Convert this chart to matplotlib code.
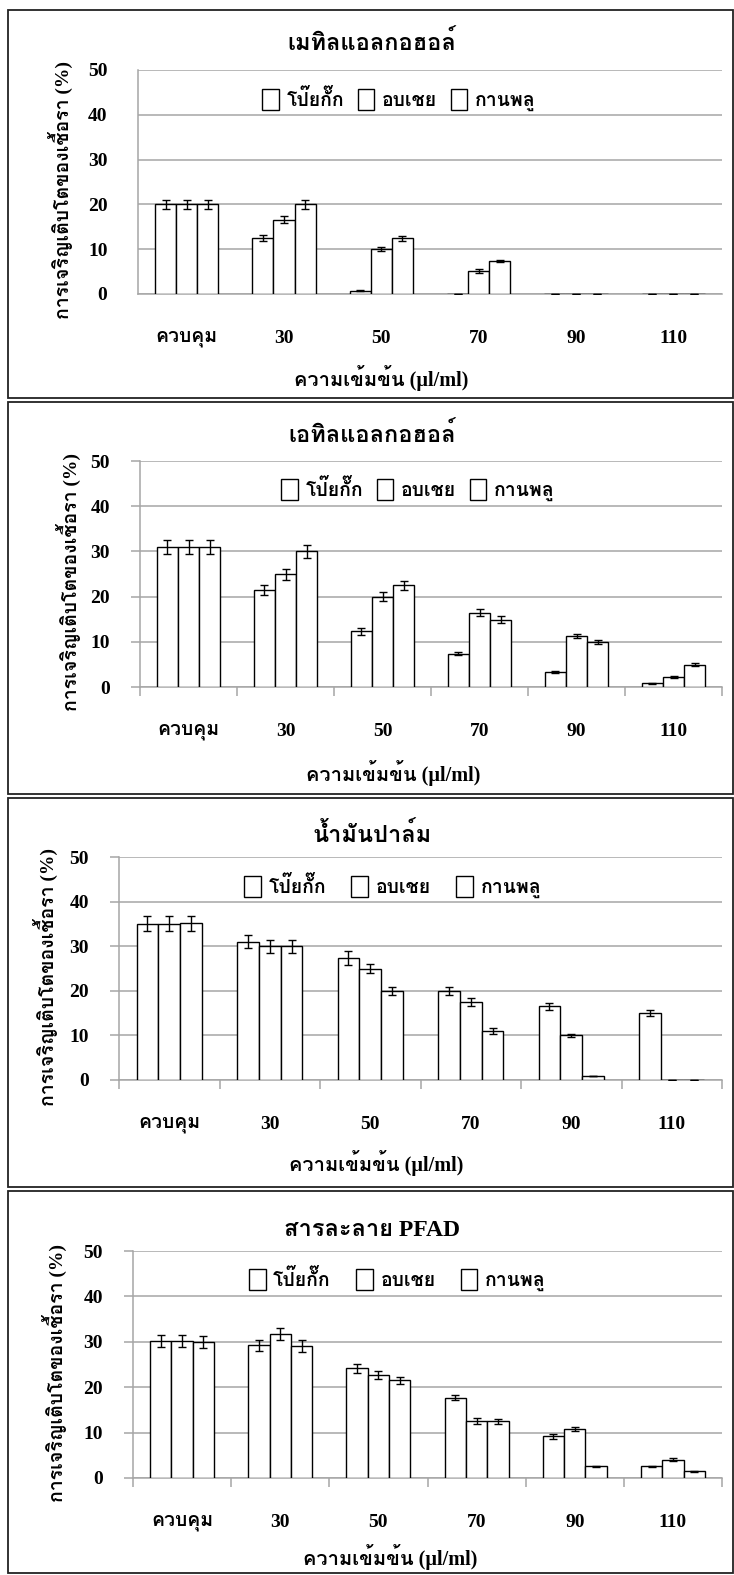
import matplotlib
matplotlib.use("Agg")
import matplotlib.pyplot as plt
from matplotlib import font_manager
from matplotlib.ft2font import FT2Font
from matplotlib.patches import Rectangle, Patch
import numpy as np

# ---- data ----
categories = ["ควบคุม", "30", "50", "70", "90", "110"]
series_names = ["โป๊ยกั๊ก", "อบเชย", "กานพลู"]
titles = ["เมทิลแอลกอฮอล์", "เอทิลแอลกอฮอล์", "น้ำมันปาล์ม", "สารละลาย PFAD"]
ylabel = "การเจริญเติบโตของเชื้อรา (%)"
xlabel = "ความเข้มข้น (µl/ml)"
yticks = [0, 10, 20, 30, 40, 50]

methanol_anise = [20, 12.5, 0.7, 0, 0, 0]
methanol_cinnamon = [20, 16.6, 10.1, 5.1, 0, 0]
methanol_clove = [20, 20, 12.4, 7.3, 0, 0]
methanol_anise_err = [1.0, 0.6, 0.1, 0, 0, 0]
methanol_cinnamon_err = [1.0, 0.7, 0.5, 0.4, 0, 0]
methanol_clove_err = [1.0, 1.0, 0.6, 0.25, 0, 0]

ethanol_anise = [31, 21.5, 12.3, 7.4, 3.3, 0.8]
ethanol_cinnamon = [31, 24.9, 20, 16.4, 11.3, 2.2]
ethanol_clove = [31, 30, 22.5, 14.9, 10, 4.9]
ethanol_anise_err = [1.5, 1.1, 0.7, 0.4, 0.3, 0.05]
ethanol_cinnamon_err = [1.5, 1.2, 1.0, 0.8, 0.5, 0.15]
ethanol_clove_err = [1.5, 1.5, 1.0, 0.8, 0.5, 0.3]

palm_anise = [35, 31, 27.4, 19.9, 16.5, 15]
palm_cinnamon = [35, 30, 25, 17.5, 10, 0]
palm_clove = [35.1, 30, 20, 11, 1, 0]
palm_anise_err = [1.7, 1.5, 1.6, 0.9, 0.7, 0.7]
palm_cinnamon_err = [1.7, 1.5, 1.1, 0.8, 0.4, 0]
palm_clove_err = [1.7, 1.5, 0.9, 0.6, 0, 0]

pfad_anise = [30.2, 29.2, 24.2, 17.7, 9.2, 2.6]
pfad_cinnamon = [30.2, 31.7, 22.7, 12.6, 10.8, 4.0]
pfad_clove = [30, 29, 21.5, 12.5, 2.6, 1.5]
pfad_anise_err = [1.3, 1.3, 1.0, 0.6, 0.5, 0.1]
pfad_cinnamon_err = [1.3, 1.3, 0.8, 0.6, 0.4, 0.3]
pfad_clove_err = [1.3, 1.3, 0.8, 0.5, 0.1, 0.1]

panels = [
    ([methanol_anise, methanol_cinnamon, methanol_clove],
     [methanol_anise_err, methanol_cinnamon_err, methanol_clove_err]),
    ([ethanol_anise, ethanol_cinnamon, ethanol_clove],
     [ethanol_anise_err, ethanol_cinnamon_err, ethanol_clove_err]),
    ([palm_anise, palm_cinnamon, palm_clove],
     [palm_anise_err, palm_cinnamon_err, palm_clove_err]),
    ([pfad_anise, pfad_cinnamon, pfad_clove],
     [pfad_anise_err, pfad_cinnamon_err, pfad_clove_err]),
]

# ---- fonts: find something that can draw Thai ----
thai_fonts = []
for f in font_manager.fontManager.ttflist:
    if f.name in thai_fonts:
        continue
    try:
        if 0x0E01 in FT2Font(f.fname).get_charmap():
            thai_fonts.append(f.name)
    except Exception:
        pass
fam = ["Liberation Serif"] + thai_fonts[:2] + ["DejaVu Sans"]
plt.rcParams["font.family"] = fam
plt.rcParams["font.weight"] = "bold"

W, H = 734, 1575
fig = plt.figure(figsize=(W / 100, H / 100), dpi=100)

# layout in pixels: (left, right, y of 50, y of 0), panel frame (top, bottom)
axes_px = [(138, 722, 70, 294), (140, 722, 461, 687),
           (119, 722, 857, 1080), (133, 722, 1251, 1478)]
frames_px = [(10, 398), (402, 794), (798, 1187), (1191, 1573)]
title_y = [43, 435, 835, 1230]
ylab_x = [60, 68, 45, 54]
xlab_pos = [(381, 378), (393, 773), (376, 1163), (390, 1557)]
leg_pos = [(0.447, 0.866), (0.478, 0.872), (0.454, 0.865), (0.449, 0.872)]
leg_gap = [0.7, 0.7, 1.3, 1.3]

grid_c = "#a6a6a6"
bw = 0.217
x = np.arange(len(categories)) + 0.5
fs = 14

for i, (vals, errs) in enumerate(panels):
    top, bot = frames_px[i]
    fig.add_artist(Rectangle((8 / W, 1 - bot / H), (733 - 8) / W, (bot - top) / H,
                             transform=fig.transFigure, fill=False,
                             edgecolor="#222222", linewidth=1.3))
    l, r, y50, y0 = axes_px[i]
    ax = fig.add_axes([l / W, 1 - y0 / H, (r - l) / W, (y0 - y50) / H])
    for k in range(3):
        ax.bar(x + (k - 1) * bw, vals[k], width=bw, color="white",
               edgecolor="black", linewidth=1.0, zorder=3)
        ax.errorbar(x + (k - 1) * bw, vals[k], yerr=errs[k], fmt="none",
                    ecolor="black", elinewidth=1.0, capsize=2.6, capthick=1.0,
                    zorder=4)
    ax.set_xlim(0, len(categories))
    ax.set_ylim(0, 50)
    ax.set_yticks(yticks)
    ax.set_xticks(x)
    ax.set_xticklabels(categories)
    ax.grid(axis="y", color=grid_c, linewidth=1.1, zorder=0)
    for s in ["top", "right"]:
        ax.spines[s].set_visible(False)
    for s in ["left", "bottom"]:
        ax.spines[s].set_color(grid_c)
        ax.spines[s].set_linewidth(1.1)
    if i == 0:
        ax.tick_params(axis="y", length=0, pad=22, labelsize=fs)
    else:
        ax.tick_params(axis="y", length=6.5, color=grid_c, width=1.1, pad=15,
                       labelsize=fs)
        ax.set_xticks(np.arange(len(categories) + 1), minor=True)
        ax.tick_params(axis="x", which="minor", length=6.5, color=grid_c,
                       width=1.1)
    ax.tick_params(axis="x", which="major", length=0, pad=26, labelsize=fs)
    for t in ax.get_xticklabels() + ax.get_yticklabels():
        t.set_fontweight("bold")
    handles = [Patch(facecolor="white", edgecolor="black", linewidth=1.0)
               for _ in series_names]
    ax.legend(handles, series_names, loc="center", bbox_to_anchor=leg_pos[i],
              ncol=3, frameon=False, handlelength=0.85, handleheight=1.3,
              handletextpad=0.4, columnspacing=leg_gap[i],
              prop={"weight": "bold", "size": 14})
    fig.text(372 / W, 1 - title_y[i] / H, titles[i], ha="center", va="center",
             fontsize=17, fontweight="bold")
    fig.text(ylab_x[i] / W, 1 - ((y50 + y0) / 2 + 8) / H, ylabel, rotation=90,
             ha="center", va="center", fontsize=14, fontweight="bold")
    fig.text(xlab_pos[i][0] / W, 1 - xlab_pos[i][1] / H, xlabel, ha="center",
             va="center", fontsize=14.5, fontweight="bold")

fig.savefig("out.png", dpi=100)
